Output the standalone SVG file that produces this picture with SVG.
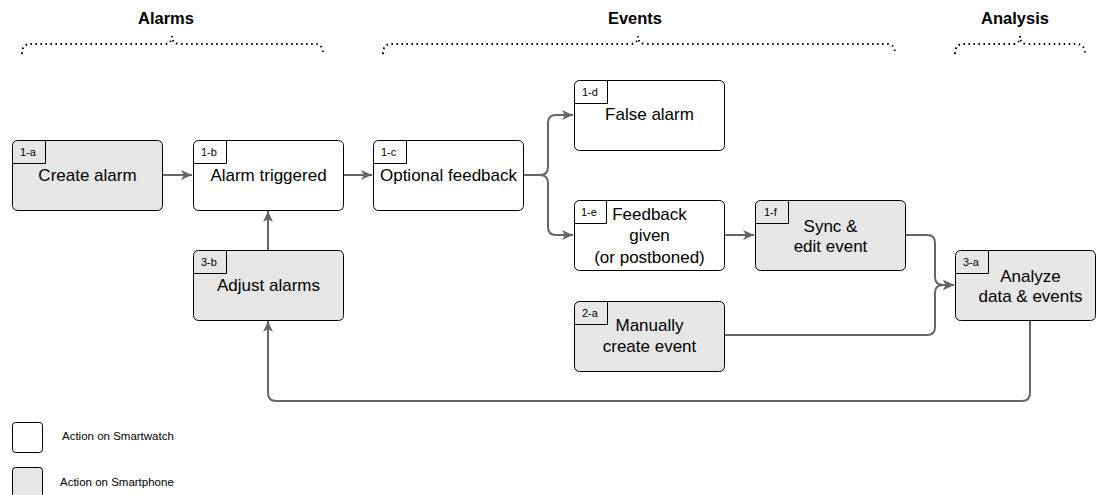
<svg xmlns="http://www.w3.org/2000/svg" width="1097" height="495" viewBox="0 0 1097 495">
<defs>
<style>
.box{stroke:#000;stroke-width:1;}
.w{fill:#fff;}
.g{fill:#e6e6e6;}
.tag{fill:none;stroke:#000;stroke-width:1;}
.t{font-family:"Liberation Sans",Arial,sans-serif;font-size:17px;fill:#000;text-anchor:middle;}
.s{font-family:"Liberation Sans",Arial,sans-serif;font-size:11px;fill:#000;}
.h{font-family:"Liberation Sans",Arial,sans-serif;font-size:16.5px;font-weight:bold;fill:#000;text-anchor:middle;}
.lg{font-family:"Liberation Sans",Arial,sans-serif;font-size:11.5px;fill:#000;}
.br{fill:none;stroke:#000;stroke-width:2;stroke-dasharray:1.5 3.5;}
.c{fill:none;stroke:#666;stroke-width:2;}
</style>
<marker id="arr" markerWidth="13" markerHeight="11" refX="11" refY="5.5" orient="auto" markerUnits="userSpaceOnUse">
<path d="M0,0.5 L11,5.5 L0,10.5 L3,5.5 z" fill="#666"/>
</marker>
</defs>
<rect width="1097" height="495" fill="#fff"/>

<g id="headers">
<text class="h" x="166" y="24">Alarms</text>
<path class="br" d="M22,54 Q22,44 30,44 L164,44 Q172,44 172,36 Q172,44 180,44 L315,44 Q323,44 323,54"/>
<text class="h" x="635" y="24">Events</text>
<path class="br" d="M383,54 Q383,44 391,44 L630,44 Q638,44 638,36 Q638,44 646,44 L887,44 Q895,44 895,54"/>
<text class="h" x="1015" y="24">Analysis</text>
<path class="br" d="M955,54 Q955,44 963,44 L1013,44 Q1020,44 1020,36 Q1020,44 1027,44 L1077,44 Q1085,44 1085,54"/>
</g>

<g id="connectors">
<path class="c" d="M163,175 H192" marker-end="url(#arr)"/>
<path class="c" d="M343,175 H372" marker-end="url(#arr)"/>
<path class="c" d="M268,250 V211" marker-end="url(#arr)"/>
<path class="c" d="M523,175 H540 Q548,175 548,167 V123 Q548,115 556,115 H573" marker-end="url(#arr)"/>
<path class="c" d="M523,175 H540 Q548,175 548,183 V227 Q548,235 556,235 H573" marker-end="url(#arr)"/>
<path class="c" d="M724,235 H754" marker-end="url(#arr)"/>
<path class="c" d="M905,235 H927 Q935,235 935,243 V277 Q935,285 943,285 H954" marker-end="url(#arr)"/>
<path class="c" d="M724,335 H927 Q935,335 935,327 V293 Q935,285 943,285 H954" marker-end="url(#arr)"/>
<path class="c" d="M1030,320 V393 Q1030,401 1022,401 H276 Q268,401 268,393 V321" marker-end="url(#arr)"/>
</g>

<g id="n1a">
<rect class="box g" x="12.5" y="140.5" width="150" height="70" rx="5"/>
<path class="tag" d="M12.5,163.5 H45.5 V140.5"/>
<text class="s" x="20" y="156">1-a</text>
<text class="t" x="87.5" y="181">Create alarm</text>
</g>
<g id="n1b">
<rect class="box w" x="193.5" y="140.5" width="150" height="70" rx="5"/>
<path class="tag" d="M193.5,163.5 H226.5 V140.5"/>
<text class="s" x="201" y="156">1-b</text>
<text class="t" x="268.5" y="181">Alarm triggered</text>
</g>
<g id="n3b">
<rect class="box g" x="193.5" y="250.5" width="150" height="70" rx="5"/>
<path class="tag" d="M193.5,273.5 H226.5 V250.5"/>
<text class="s" x="201" y="266">3-b</text>
<text class="t" x="268.5" y="291">Adjust alarms</text>
</g>
<g id="n1c">
<rect class="box w" x="373.5" y="140.5" width="150" height="70" rx="5"/>
<path class="tag" d="M373.5,163.5 H406.5 V140.5"/>
<text class="s" x="381" y="156">1-c</text>
<text class="t" x="448.5" y="180.5">Optional feedback</text>
</g>
<g id="n1d">
<rect class="box w" x="574.5" y="80.5" width="150" height="70" rx="5"/>
<path class="tag" d="M574.5,103.5 H607.5 V80.5"/>
<text class="s" x="582" y="96">1-d</text>
<text class="t" x="649.5" y="120">False alarm</text>
</g>
<g id="n1e">
<rect class="box w" x="574.5" y="200.5" width="150" height="70" rx="5"/>
<path class="tag" d="M574.5,223.5 H606.5 V200.5"/>
<text class="s" x="581" y="216">1-e</text>
<text class="t" x="649.5" y="220">Feedback</text>
<text class="t" x="649.5" y="241">given</text>
<text class="t" x="649.5" y="262.5">(or postboned)</text>
</g>
<g id="n1f">
<rect class="box g" x="755.5" y="200.5" width="150" height="70" rx="5"/>
<path class="tag" d="M755.5,223.5 H788.5 V200.5"/>
<text class="s" x="764" y="216">1-f</text>
<text class="t" x="830.5" y="232">Sync &amp;</text>
<text class="t" x="830.5" y="252">edit event</text>
</g>
<g id="n2a">
<rect class="box g" x="574.5" y="301.5" width="150" height="70" rx="5"/>
<path class="tag" d="M574.5,324.5 H607.5 V301.5"/>
<text class="s" x="582" y="317">2-a</text>
<text class="t" x="649.5" y="331">Manually</text>
<text class="t" x="649.5" y="352">create event</text>
</g>
<g id="n3a">
<rect class="box g" x="955.5" y="250.5" width="140" height="70" rx="5"/>
<path class="tag" d="M955.5,273.5 H988.5 V250.5"/>
<text class="s" x="963" y="266">3-a</text>
<text class="t" x="1030.5" y="282">Analyze</text>
<text class="t" x="1030.5" y="302">data &amp; events</text>
</g>

<g id="legend">
<rect class="box w" x="12.5" y="422.5" width="30" height="30" rx="3"/>
<text class="lg" x="62" y="440">Action on Smartwatch</text>
<rect class="box g" x="12.5" y="467.5" width="30" height="30" rx="3"/>
<text class="lg" x="60" y="486">Action on Smartphone</text>
</g>
</svg>
